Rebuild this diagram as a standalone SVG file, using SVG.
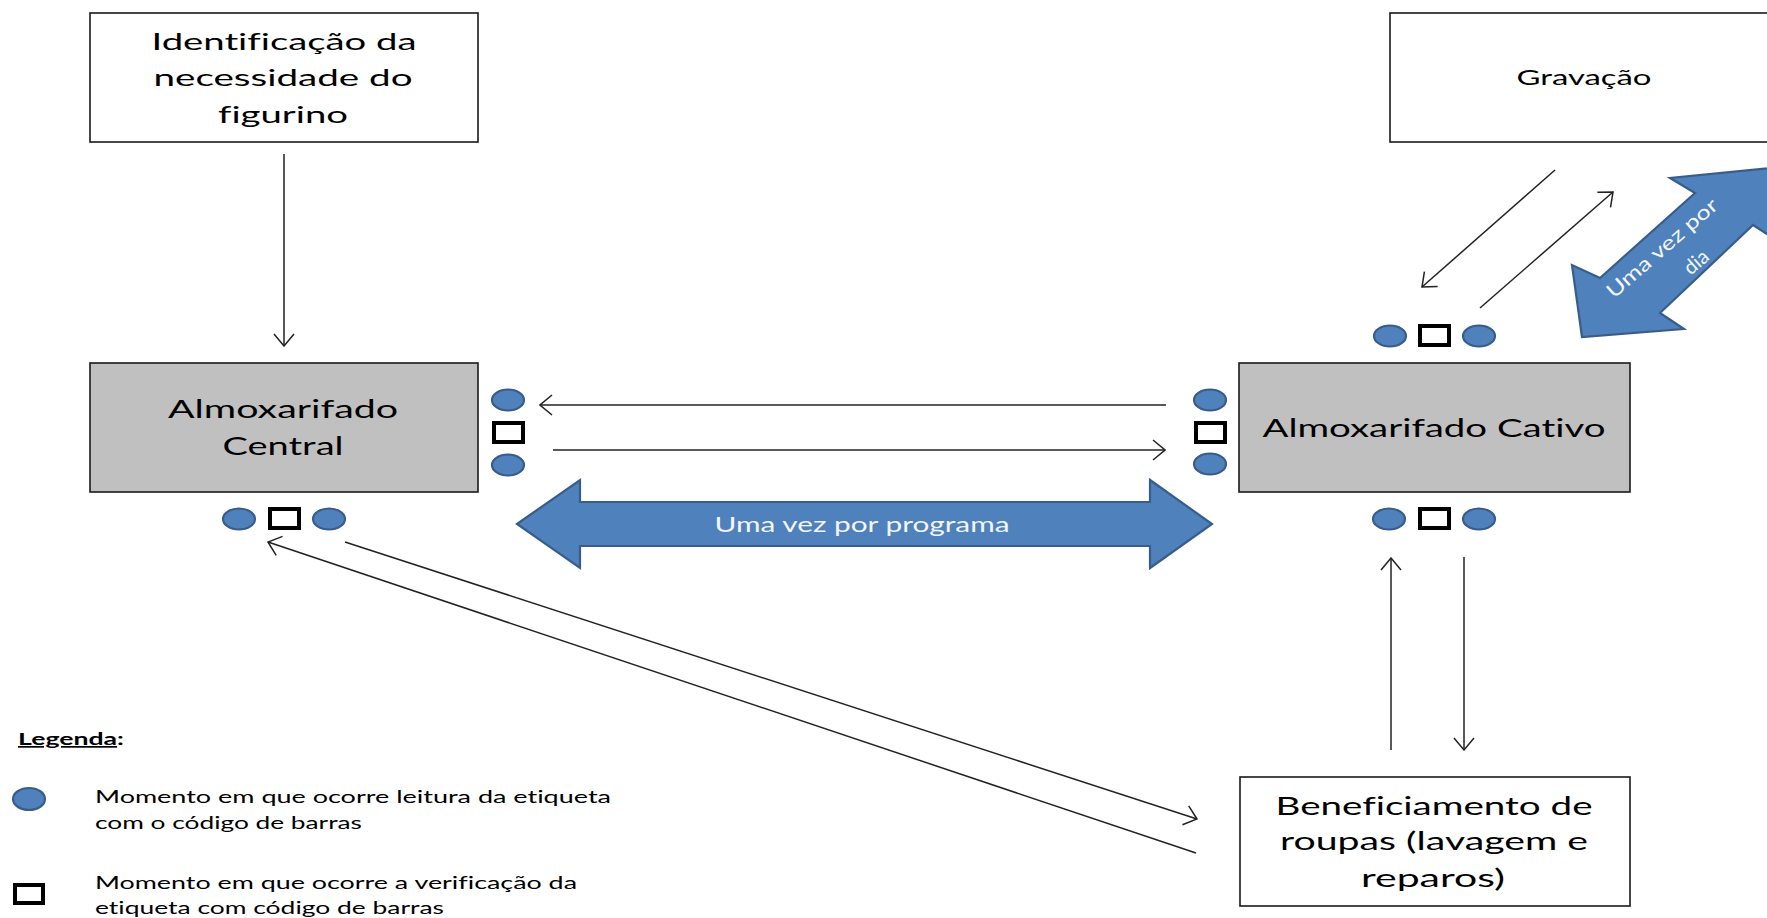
<svg xmlns="http://www.w3.org/2000/svg" width="1767" height="918" viewBox="0 0 1767 918">
<style>
text{font-variant-ligatures:none}
.box{fill:#fff;stroke:#1a1a1a;stroke-width:1.6}
.gray{fill:#c0c0c0;stroke:#1a1a1a;stroke-width:1.6}
.t{font-family:Lato,"Open Sans","Liberation Sans",sans-serif;fill:#000;text-anchor:middle}
.lt{font-family:Lato,"Open Sans","Liberation Sans",sans-serif;fill:#000;font-size:17px}
.wt{font-family:Lato,"Open Sans","Liberation Sans",sans-serif;fill:#f2f6fb;text-anchor:middle}
.dot{fill:#4f81bd;stroke:#385d8a;stroke-width:2.2}
.sq{fill:#fff;stroke:#000;stroke-width:4}
.ln{fill:none;stroke:#222;stroke-width:1.5;marker-end:url(#ah)}
.band{fill:#4f81bd;stroke:#385d8a;stroke-width:2.2;stroke-linejoin:miter}
</style>
<defs>
<marker id="ah" viewBox="0 0 14 22" refX="13" refY="11" markerWidth="14" markerHeight="22" markerUnits="userSpaceOnUse" orient="auto">
<path d="M1,1 L13,11 L1,21" fill="none" stroke="#222" stroke-width="1.5"/>
</marker>
</defs>
<rect width="1767" height="918" fill="#fff"/>

<g id="node-identificacao">
<rect class="box" x="90" y="13" width="388" height="129"/>
<text class="t" font-size="23" x="284" y="50" textLength="265" lengthAdjust="spacingAndGlyphs">Identificação da</text>
<text class="t" font-size="23" x="283" y="86" textLength="259" lengthAdjust="spacingAndGlyphs">necessidade do</text>
<text class="t" font-size="23" x="283" y="123" textLength="130" lengthAdjust="spacingAndGlyphs">figurino</text>
</g>

<g id="node-gravacao">
<rect class="box" x="1390" y="13" width="420" height="129"/>
<text class="t" font-size="21" x="1584" y="85" textLength="135" lengthAdjust="spacingAndGlyphs">Gravação</text>
</g>

<g id="node-central">
<rect class="gray" x="90" y="363" width="388" height="129"/>
<text class="t" font-size="25" x="283" y="418" textLength="230" lengthAdjust="spacingAndGlyphs">Almoxarifado</text>
<text class="t" font-size="25" x="283" y="455" textLength="121" lengthAdjust="spacingAndGlyphs">Central</text>
</g>

<g id="node-cativo">
<rect class="gray" x="1239" y="363" width="391" height="129"/>
<text class="t" font-size="25" x="1434" y="437" textLength="343" lengthAdjust="spacingAndGlyphs">Almoxarifado Cativo</text>
</g>

<g id="node-beneficiamento">
<rect class="box" x="1240" y="777" width="390" height="129"/>
<text class="t" font-size="25" x="1434" y="815" textLength="317" lengthAdjust="spacingAndGlyphs">Beneficiamento de</text>
<text class="t" font-size="25" x="1434" y="850" textLength="308" lengthAdjust="spacingAndGlyphs">roupas (lavagem e</text>
<text class="t" font-size="25" x="1433" y="887" textLength="144" lengthAdjust="spacingAndGlyphs">reparos)</text>
</g>

<g id="connectors">
<line class="ln" x1="284" y1="154" x2="284" y2="346"/>
<line class="ln" x1="1166" y1="405" x2="540" y2="405"/>
<line class="ln" x1="553" y1="450" x2="1165" y2="450"/>
<line class="ln" x1="1555" y1="170" x2="1422" y2="287"/>
<line class="ln" x1="1480" y1="308" x2="1613" y2="192"/>
<line class="ln" x1="1391" y1="750" x2="1391" y2="558"/>
<line class="ln" x1="1464" y1="557" x2="1464" y2="750"/>
<line class="ln" x1="345" y1="542" x2="1197" y2="819"/>
<line class="ln" x1="1196" y1="853" x2="268" y2="542"/>
</g>

<g id="band-programa">
<polygon class="band" points="517,524 580,480 580,502 1150,502 1150,480 1212,524 1150,568 1150,546 580,546 580,568"/>
<text class="wt" font-size="21" x="862" y="532" textLength="295" lengthAdjust="spacingAndGlyphs">Uma vez por programa</text>
</g>

<g id="band-dia">
<polygon class="band" points="1582,337 1572,265 1600,278 1695,193 1670,178 1800,165 1800,255 1767,234 1753,225 1660,313 1684,329"/>
<text class="wt" font-size="20" transform="translate(1662,248) rotate(-41)" y="7" textLength="140" lengthAdjust="spacingAndGlyphs">Uma vez por</text>
<text class="wt" font-size="20" transform="translate(1696,262) rotate(-41)" y="7">dia</text>
</g>

<g id="checkpoints">
<ellipse class="dot" cx="508" cy="400" rx="16" ry="10.5"/>
<rect class="sq" x="494" y="423" width="29" height="19"/>
<ellipse class="dot" cx="508" cy="465" rx="16" ry="10.5"/>

<ellipse class="dot" cx="239" cy="519" rx="16" ry="10.5"/>
<rect class="sq" x="270" y="509" width="29" height="19"/>
<ellipse class="dot" cx="329" cy="519" rx="16" ry="10.5"/>

<ellipse class="dot" cx="1210" cy="400" rx="16" ry="10.5"/>
<rect class="sq" x="1196" y="423" width="29" height="19"/>
<ellipse class="dot" cx="1210" cy="464" rx="16" ry="10.5"/>

<ellipse class="dot" cx="1389" cy="519" rx="16" ry="10.5"/>
<rect class="sq" x="1420" y="509" width="29" height="19"/>
<ellipse class="dot" cx="1479" cy="519" rx="16" ry="10.5"/>

<ellipse class="dot" cx="1390" cy="336" rx="16" ry="10.5"/>
<rect class="sq" x="1420" y="326" width="29" height="19"/>
<ellipse class="dot" cx="1479" cy="336" rx="16" ry="10.5"/>
</g>

<g id="legend">
<text class="lt" x="18" y="745" font-weight="bold" textLength="106" lengthAdjust="spacingAndGlyphs"><tspan text-decoration="underline">Legenda</tspan>:</text>
<ellipse class="dot" cx="29" cy="799" rx="16" ry="11"/>
<text class="lt" x="95" y="803" textLength="516" lengthAdjust="spacingAndGlyphs">Momento em que ocorre leitura da etiqueta</text>
<text class="lt" x="95" y="829" textLength="267" lengthAdjust="spacingAndGlyphs">com o código de barras</text>
<rect class="sq" x="15" y="885" width="28" height="18"/>
<text class="lt" x="95" y="889" textLength="482" lengthAdjust="spacingAndGlyphs">Momento em que ocorre a verificação da</text>
<text class="lt" x="95" y="914" textLength="349" lengthAdjust="spacingAndGlyphs">etiqueta com código de barras</text>
</g>
</svg>
